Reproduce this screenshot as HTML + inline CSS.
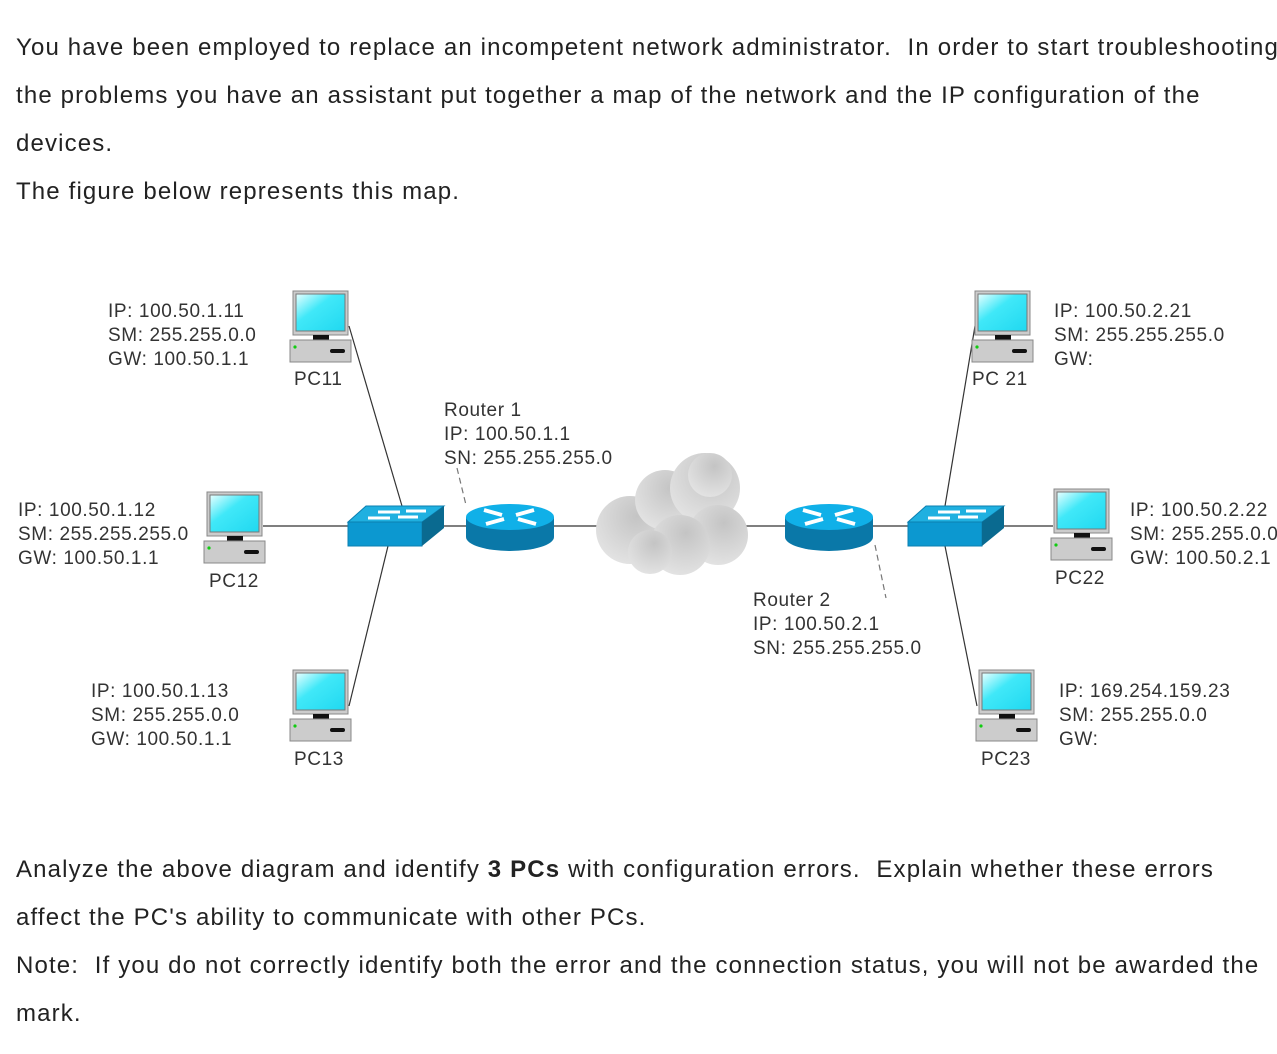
<!DOCTYPE html>
<html><head><meta charset="utf-8"><style>
body{margin:0;background:#fff;width:1277px;height:1054px;overflow:hidden;font-family:"Liberation Sans",Arial,sans-serif;color:#222}
.p{position:absolute;left:16px;font-size:24px;white-space:nowrap;letter-spacing:1.15px}
svg{position:absolute;left:0;top:0}
svg text{font-family:"Liberation Sans",Arial,sans-serif;font-size:19px;fill:#333;letter-spacing:0.6px}
</style></head><body>
<div class="p" style="top:34px">You have been employed to replace an incompetent network administrator.&nbsp; In order to start troubleshooting</div>
<div class="p" style="top:82px">the problems you have an assistant put together a map of the network and the IP configuration of the</div>
<div class="p" style="top:130px">devices.</div>
<div class="p" style="top:178px">The figure below represents this map.</div>
<div class="p" style="top:856px">Analyze the above diagram and identify <b>3 PCs</b> with configuration errors.&nbsp; Explain whether these errors</div>
<div class="p" style="top:904px">affect the PC's ability to communicate with other PCs.</div>
<div class="p" style="top:952px">Note:&nbsp; If you do not correctly identify both the error and the connection status, you will not be awarded the</div>
<div class="p" style="top:1000px">mark.</div>
<svg width="1277" height="1054">
<defs>
<linearGradient id="scr" x1="0" y1="0" x2="1" y2="1"><stop offset="0" stop-color="#e8ffff"/><stop offset=".4" stop-color="#40e8f8"/><stop offset="1" stop-color="#20d8f0"/></linearGradient>
<g id="pc">
<rect x="0" y="0" width="55" height="44" fill="#ccc" stroke="#888"/>
<rect x="3" y="3" width="49" height="37" fill="url(#scr)" stroke="#777"/>
<rect x="20" y="44" width="16" height="5" fill="#111"/>
<rect x="-3" y="49" width="61" height="22" fill="#ccc" stroke="#888"/>
<circle cx="2" cy="56" r="1.6" fill="#1c1"/>
<rect x="37" y="58" width="15" height="4" rx="2" fill="#111"/>
</g>
<g id="sw">
<polygon points="0,16 18,0 96,0 74,16" fill="#1fb0e0" stroke="#0b7fb0"/>
<rect x="0" y="16" width="74" height="24" fill="#0c98d0" stroke="#0b7fb0"/>
<polygon points="74,16 96,0 96,22 74,40" fill="#0a6a90"/>
<path d="M20,12h22M30,6h22M50,11h20M58,5h20" stroke="#fff" stroke-width="3"/>
</g>
<g id="rt">
<path d="M-44,0v20a44,14 0 0 0 88,0v-20z" fill="#0a78a8"/>
<ellipse cx="0" cy="0" rx="44" ry="13" fill="#10b0e8"/>
<path d="M-26,-7l18,5M26,7l-18,-5M-24,7l18,-5M24,-7l-18,5" stroke="#fff" stroke-width="4"/>
</g>
<radialGradient id="cl" cx=".6" cy=".3" r=".8"><stop offset="0" stop-color="#c4c4c4"/><stop offset="1" stop-color="#e6e6e6"/></radialGradient>
</defs>
<g stroke="#333" stroke-width="1.2" fill="none">
<line x1="263" y1="526" x2="350" y2="526"/><line x1="442" y1="526" x2="468" y2="526"/>
<line x1="553" y1="526" x2="598" y2="526"/><line x1="746" y1="526" x2="786" y2="526"/>
<line x1="872" y1="526" x2="910" y2="526"/><line x1="1002" y1="526" x2="1053" y2="526"/>
<line x1="349" y1="326" x2="402" y2="506"/><line x1="349" y1="706" x2="388" y2="546"/>
<line x1="975" y1="326" x2="945" y2="506"/><line x1="977" y1="706" x2="945" y2="546"/>
<line x1="457" y1="468" x2="466" y2="505" stroke-dasharray="6,4" stroke="#777"/>
<line x1="875" y1="545" x2="886" y2="598" stroke-dasharray="6,4" stroke="#777"/>
</g>
<g fill="url(#cl)">
<circle cx="630" cy="530" r="34"/><circle cx="665" cy="500" r="30"/><circle cx="705" cy="488" r="35"/>
<circle cx="718" cy="535" r="30"/><circle cx="680" cy="545" r="30"/><circle cx="650" cy="552" r="22"/><circle cx="710" cy="475" r="22"/>
</g>
<use href="#pc" x="293" y="291"/><use href="#pc" x="207" y="492"/><use href="#pc" x="293" y="670"/>
<use href="#pc" x="975" y="291"/><use href="#pc" x="1054" y="489"/><use href="#pc" x="979" y="670"/>
<use href="#sw" x="348" y="506"/><use href="#sw" x="908" y="506"/>
<use href="#rt" x="510" y="517"/><use href="#rt" x="829" y="517"/>
<text x="108" y="317">IP:  100.50.1.11</text><text x="108" y="341">SM: 255.255.0.0</text><text x="108" y="365">GW: 100.50.1.1</text>
<text x="294" y="385">PC11</text>
<text x="444" y="416">Router 1</text><text x="444" y="440">IP:  100.50.1.1</text><text x="444" y="464">SN: 255.255.255.0</text>
<text x="18" y="516">IP:  100.50.1.12</text><text x="18" y="540">SM: 255.255.255.0</text><text x="18" y="564">GW: 100.50.1.1</text>
<text x="209" y="587">PC12</text>
<text x="91" y="697">IP:  100.50.1.13</text><text x="91" y="721">SM: 255.255.0.0</text><text x="91" y="745">GW: 100.50.1.1</text>
<text x="294" y="765">PC13</text>
<text x="1054" y="317">IP: 100.50.2.21</text><text x="1054" y="341">SM: 255.255.255.0</text><text x="1054" y="365">GW:</text>
<text x="972" y="385">PC 21</text>
<text x="1130" y="516">IP:  100.50.2.22</text><text x="1130" y="540">SM: 255.255.0.0</text><text x="1130" y="564">GW: 100.50.2.1</text>
<text x="1055" y="584">PC22</text>
<text x="753" y="606">Router 2</text><text x="753" y="630">IP:  100.50.2.1</text><text x="753" y="654">SN: 255.255.255.0</text>
<text x="1059" y="697">IP:  169.254.159.23</text><text x="1059" y="721">SM: 255.255.0.0</text><text x="1059" y="745">GW:</text>
<text x="981" y="765">PC23</text>
</svg>
</body></html>
